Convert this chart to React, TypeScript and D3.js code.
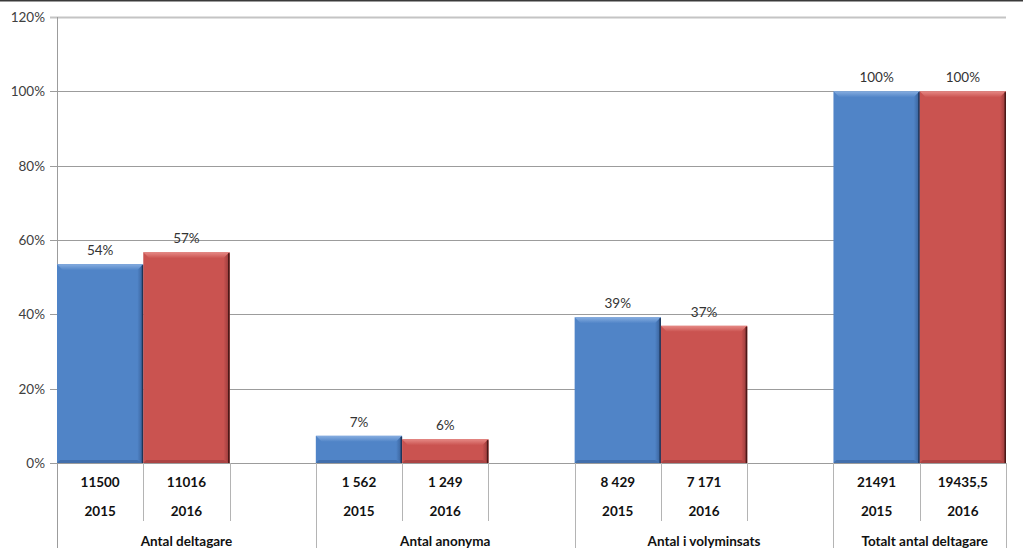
import React, { useRef, useEffect } from 'react';
import * as d3 from 'd3';

// categories and series
const groups = ['Antal deltagare', 'Antal anonyma', 'Antal i volyminsats', 'Totalt antal deltagare'];
const years = ['2015', '2016'];
const pct2015 = [53.5, 7.3, 39.2, 100];
const pct2016 = [56.7, 6.4, 36.9, 100];
const labels2015 = ['54%', '7%', '39%', '100%'];
const labels2016 = ['57%', '6%', '37%', '100%'];
const counts2015 = ['11500', '1 562', '8 429', '21491'];
const counts2016 = ['11016', '1 249', '7 171', '19435,5'];
const yTicks = [0, 20, 40, 60, 80, 100, 120];

const W = 1023;
const H = 558;
const FONT = 'Lato, "Liberation Sans", sans-serif';

const palette = [
  { main: '#5084C7', light: '#86ADE0', dark: '#365E96', edge: '#1E3558' },
  { main: '#CA5350', light: '#E68985', dark: '#93393A', edge: '#4A1816' },
];

const App = () => {
  const svgRef = useRef<SVGSVGElement>(null);

  useEffect(() => {
    const svg = d3.select(svgRef.current);
    svg.selectAll('*').remove();

    const left = 57;
    const right = 1006;
    const top = 17;
    const bottom = 463;

    // 11 slots: 3 per group (2015, 2016, blank), last group has no blank
    const slotIds: string[] = [];
    groups.forEach((g, gi) => {
      slotIds.push(`${gi}-0`, `${gi}-1`);
      if (gi < groups.length - 1) slotIds.push(`${gi}-gap`);
    });
    const x = d3.scaleBand().domain(slotIds).range([left, right]).padding(0);
    const y = d3.scaleLinear().domain([0, 120]).range([bottom, top]);

    // gradients for bevel edges
    const defs = svg.append('defs');
    palette.forEach((c, i) => {
      const rg = defs.append('linearGradient').attr('id', `right${i}`)
        .attr('x1', 0).attr('x2', 1).attr('y1', 0).attr('y2', 0);
      rg.append('stop').attr('offset', 0).attr('stop-color', c.main);
      rg.append('stop').attr('offset', 1).attr('stop-color', c.dark);
      const tg = defs.append('linearGradient').attr('id', `top${i}`)
        .attr('x1', 0).attr('x2', 0).attr('y1', 0).attr('y2', 1);
      tg.append('stop').attr('offset', 0).attr('stop-color', c.light);
      tg.append('stop').attr('offset', 1).attr('stop-color', c.main);
    });

    // top frame line
    svg.append('line')
      .attr('x1', 0).attr('x2', W).attr('y1', 0.75).attr('y2', 0.75)
      .attr('stroke', '#3a3a3a').attr('stroke-width', 1.5);

    // gridlines + ticks
    yTicks.forEach(t => {
      const yy = Math.round(y(t)) + 0.5;
      svg.append('line')
        .attr('x1', left - 7).attr('x2', right)
        .attr('y1', yy).attr('y2', yy)
        .attr('stroke', t === 120 ? '#c4c4c4' : '#9c9c9c')
        .attr('stroke-width', t === 120 ? 2 : 1);
      svg.append('text')
        .attr('x', 45).attr('y', yy)
        .attr('dy', '0.35em')
        .attr('text-anchor', 'end')
        .attr('font-family', FONT).attr('font-size', 13.5)
        .attr('fill', '#404040')
        .text(`${t}%`);
    });

    // y axis line
    svg.append('line')
      .attr('x1', left + 0.5).attr('x2', left + 0.5)
      .attr('y1', top).attr('y2', 548)
      .attr('stroke', '#9c9c9c');

    // bars with bevel
    const series = [pct2015, pct2016];
    const seriesLabels = [labels2015, labels2016];
    const b = 6;
    groups.forEach((g, gi) => {
      series.forEach((vals, si) => {
        const c = palette[si];
        const x0 = x(`${gi}-${si}`)!;
        const w = x.bandwidth();
        const y0 = y(vals[gi]);
        const h = bottom - y0;
        const x1 = x0 + w;
        const y1 = bottom;
        const bb = Math.min(b, h / 2);
        const gEl = svg.append('g');
        gEl.append('rect')
          .attr('x', x0).attr('y', y0).attr('width', w).attr('height', h)
          .attr('fill', c.main);
        // top bevel
        gEl.append('polygon')
          .attr('points', `${x0},${y0} ${x1},${y0} ${x1 - bb},${y0 + bb} ${x0 + bb},${y0 + bb}`)
          .attr('fill', `url(#top${si})`);
        // right bevel
        gEl.append('polygon')
          .attr('points', `${x1},${y0} ${x1},${y1} ${x1 - bb},${y1 - 3} ${x1 - bb},${y0 + bb}`)
          .attr('fill', `url(#right${si})`);
        // bottom bevel (subtle)
        gEl.append('polygon')
          .attr('points', `${x0},${y1} ${x1},${y1} ${x1 - bb},${y1 - 3} ${x0 + 3},${y1 - 3}`)
          .attr('fill', c.dark).attr('opacity', 0.55);
        // dark right edge
        gEl.append('line')
          .attr('x1', x1 - 0.75).attr('x2', x1 - 0.75).attr('y1', y0 + 1).attr('y2', y1)
          .attr('stroke', c.edge).attr('stroke-width', 1.5);

        svg.append('text')
          .attr('x', x0 + w / 2).attr('y', y0 - 9)
          .attr('text-anchor', 'middle')
          .attr('font-family', FONT).attr('font-size', 13.5)
          .attr('fill', '#333')
          .text(seriesLabels[si][gi]);
      });
    });

    // category table under axis
    const counts = [counts2015, counts2016];
    groups.forEach((g, gi) => {
      const gx0 = x(`${gi}-0`)!;
      const last = gi < groups.length - 1 ? `${gi}-gap` : `${gi}-1`;
      const gx1 = x(last)! + x.bandwidth();
      [0, 1].forEach(si => {
        const sx0 = x(`${gi}-${si}`)!;
        const sx1 = sx0 + x.bandwidth();
        svg.append('line')
          .attr('x1', Math.round(sx1) + 0.5).attr('x2', Math.round(sx1) + 0.5)
          .attr('y1', bottom).attr('y2', 521)
          .attr('stroke', '#b4b4b4');
        svg.append('text')
          .attr('x', sx0 + x.bandwidth() / 2).attr('y', 482)
          .attr('dy', '0.35em').attr('text-anchor', 'middle')
          .attr('font-family', FONT).attr('font-size', 13.5).attr('font-weight', 'bold')
          .attr('fill', '#111')
          .text(counts[si][gi]);
        svg.append('text')
          .attr('x', sx0 + x.bandwidth() / 2).attr('y', 511)
          .attr('dy', '0.35em').attr('text-anchor', 'middle')
          .attr('font-family', FONT).attr('font-size', 13.5).attr('font-weight', 'bold')
          .attr('fill', '#111')
          .text(years[si]);
      });
      svg.append('line')
        .attr('x1', Math.round(gx1) + 0.5).attr('x2', Math.round(gx1) + 0.5)
        .attr('y1', bottom).attr('y2', 548)
        .attr('stroke', '#b4b4b4');
      const cx = gi < groups.length - 1 ? (gx0 + gx1) / 2 : (gx0 + gx1) / 2 + 5;
      svg.append('text')
        .attr('x', cx).attr('y', 541)
        .attr('dy', '0.35em').attr('text-anchor', 'middle')
        .attr('font-family', FONT).attr('font-size', 13.5).attr('font-weight', 'bold')
        .attr('fill', '#111')
        .text(g);
    });
  }, []);

  return (
    <svg ref={svgRef} width={W} height={H}
      style={{ position: 'absolute', left: 0, top: 0, background: '#fff' }} />
  );
};

export default App;
